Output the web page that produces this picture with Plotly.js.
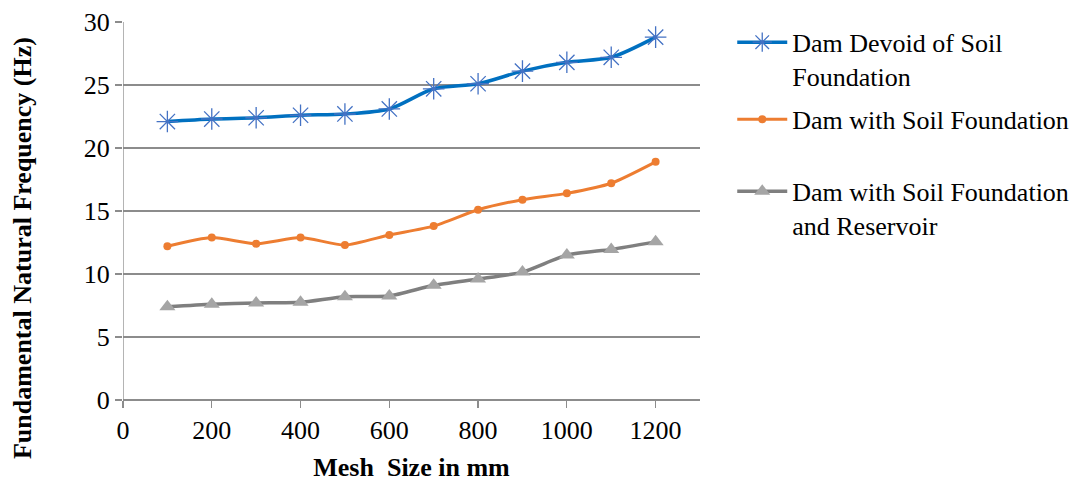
<!DOCTYPE html>
<html>
<head>
<meta charset="utf-8">
<script src="https://cdn.plot.ly/plotly-3.0.1.min.js"></script>
<style>html,body{margin:0;padding:0;background:#fff;}#chart{width:1080px;height:482px;}</style>
</head>
<body>
<div id="chart"></div>
<script>
const meshSize = [100, 200, 300, 400, 500, 600, 700, 800, 900, 1000, 1100, 1200];
const damDevoid = [22.1, 22.3, 22.4, 22.6, 22.7, 23.1, 24.7, 25.1, 26.1, 26.8, 27.2, 28.8];
const damSoil = [12.2, 12.9, 12.4, 12.9, 12.3, 13.1, 13.8, 15.1, 15.9, 16.4, 17.2, 18.9];
const damSoilReservoir = [7.4, 7.6, 7.7, 7.75, 8.2, 8.25, 9.1, 9.6, 10.15, 11.5, 11.95, 12.55];
const seriesNames = ["Dam Devoid of Soil<br>Foundation", "Dam with Soil Foundation", "Dam with Soil Foundation<br>and Reservoir"];
const xTicks = [0, 200, 400, 600, 800, 1000, 1200];
const yTicks = [0, 5, 10, 15, 20, 25, 30];

const FONT = '"Liberation Serif", "Times New Roman", serif';
const FS = 26;

const traces = [
  {
    x: meshSize, y: damDevoid, name: seriesNames[0], type: 'scatter', mode: 'lines+markers',
    line: {color: '#0070C0', width: 3.5, shape: 'spline', smoothing: 0.8},
    marker: {symbol: 'asterisk-open', size: 18, color: '#4472C4', line: {color: '#4472C4', width: 1.3}},
    legend: 'legend'
  },
  {
    x: meshSize, y: damSoil, name: seriesNames[1], type: 'scatter', mode: 'lines+markers',
    line: {color: '#ED7D31', width: 3, shape: 'spline', smoothing: 0.6},
    marker: {symbol: 'circle', size: 8, color: '#ED7D31'},
    legend: 'legend2'
  },
  {
    x: meshSize, y: damSoilReservoir, name: seriesNames[2], type: 'scatter', mode: 'lines+markers',
    line: {color: '#7F7F7F', width: 3.5, shape: 'spline', smoothing: 0.6},
    marker: {symbol: 'triangle-up', size: 14, color: '#A5A5A5'},
    legend: 'legend3'
  }
];

const legendBase = {
  xref: 'container', yref: 'container', xanchor: 'left', yanchor: 'top',
  font: {family: FONT, size: FS, color: '#000'}, bgcolor: 'rgba(0,0,0,0)',
  borderwidth: 0, itemwidth: 50, valign: 'top', tracegroupgap: 0
};

const layout = {
  width: 1080, height: 482,
  margin: {l: 123, r: 380, t: 22, b: 82},
  paper_bgcolor: '#fff', plot_bgcolor: '#fff',
  font: {family: FONT, size: FS, color: '#000'},
  showlegend: true,
  legend: Object.assign({}, legendBase, {x: 0.678, y: 0.961}),
  legend2: Object.assign({}, legendBase, {x: 0.678, y: 0.801}),
  legend3: Object.assign({}, legendBase, {x: 0.678, y: 0.652}),
  xaxis: {
    range: [0, 1300], tickvals: xTicks, ticktext: xTicks.map(String),
    showgrid: false, zeroline: false, showline: false,
    ticks: 'outside', ticklen: 7, tickcolor: '#8C8C8C', tickwidth: 1.3,
    tickfont: {family: FONT, size: FS, color: '#000'},
    title: {text: '<b>Mesh  Size in mm</b>', font: {family: FONT, size: FS, color: '#000'}, standoff: 14},
    automargin: false
  },
  yaxis: {
    range: [0, 30], tickvals: yTicks, ticktext: yTicks.map(String),
    showgrid: true, gridcolor: '#8C8C8C', gridwidth: 1.3,
    zeroline: true, zerolinecolor: '#8C8C8C', zerolinewidth: 1.3,
    showline: false,
    ticks: 'outside', ticklen: 7, tickcolor: '#8C8C8C', tickwidth: 1.3,
    tickfont: {family: FONT, size: FS, color: '#000'},
    automargin: false
  },
  shapes: [
    {type: 'line', xref: 'x', yref: 'paper', x0: 0, x1: 0, y0: 0, y1: 1, line: {color: '#8C8C8C', width: 1.3}}
  ],
  annotations: [
    {
      text: '<b>Fundamental Natural Frequency (Hz)</b>', textangle: -90,
      xref: 'paper', yref: 'paper', x: -0.175, y: 0.402, xanchor: 'center', yanchor: 'middle',
      showarrow: false, font: {family: FONT, size: FS, color: '#000'}
    }
  ]
};

Plotly.newPlot('chart', traces, layout, {displayModeBar: false, staticPlot: true});
</script>
</body>
</html>
